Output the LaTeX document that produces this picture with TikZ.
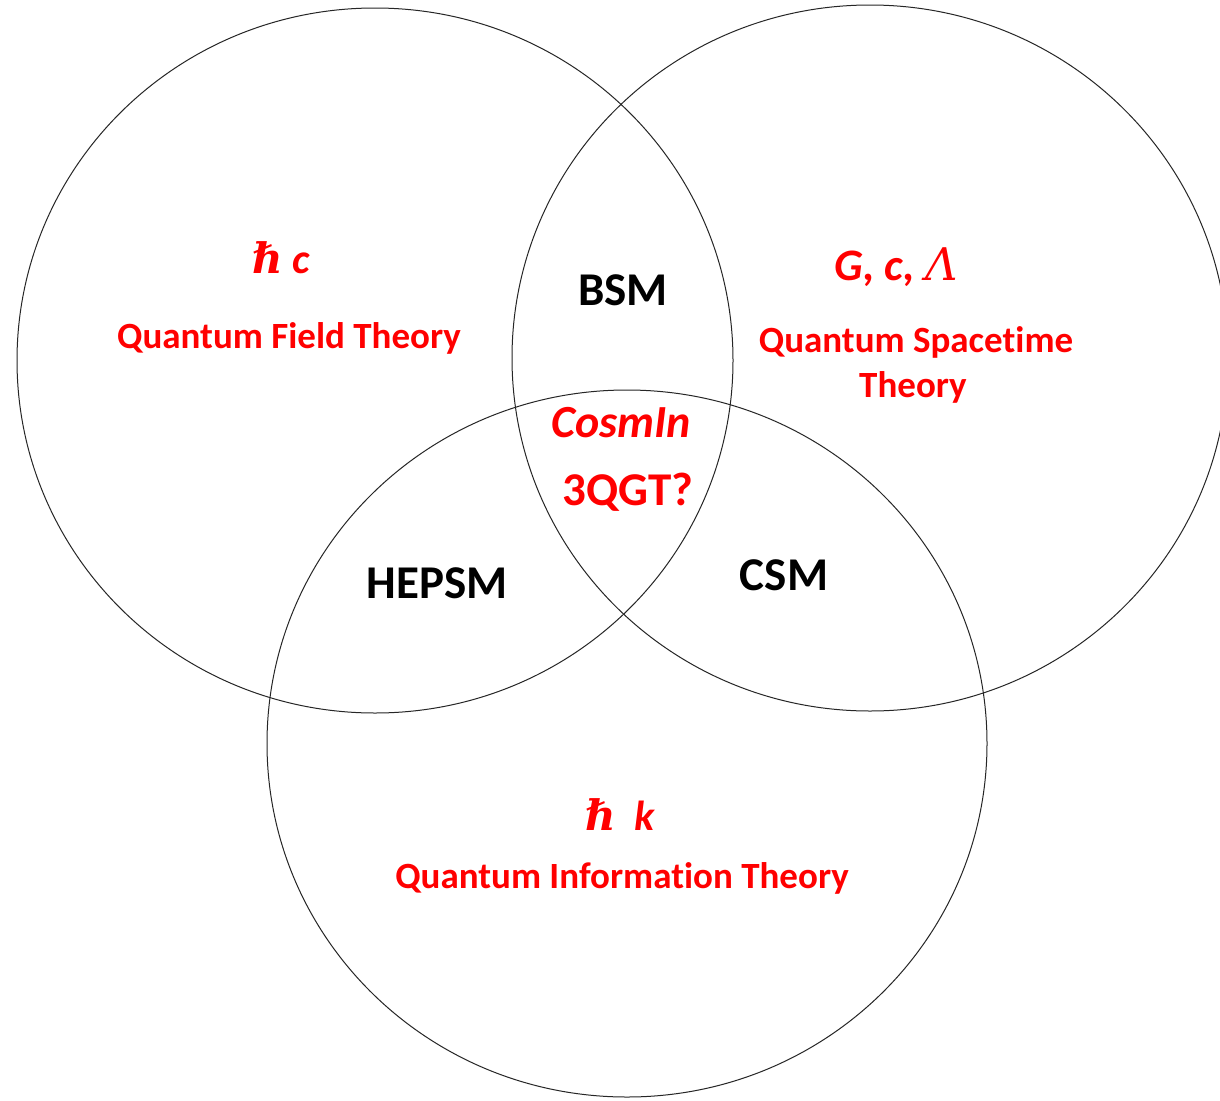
\documentclass[tikz,border=0pt]{standalone}
\usepackage{fontspec}
\setmainfont{Carlito}[Ligatures=CommonOff]
\newfontfamily\symfont{DejaVu Serif}
\definecolor{vred}{RGB}{255,0,0}
\begin{document}
\begin{tikzpicture}[x=1pt,y=-1pt,
  ring/.style={draw=black!85,line width=1pt},
  redlbl/.style={text=vred,font=\fontsize{37}{40}\selectfont\bfseries,inner sep=0pt,anchor=base},
  redsym/.style={text=vred,font=\fontsize{42}{46}\selectfont\bfseries\itshape,inner sep=0pt,anchor=base},
  blklbl/.style={text=black,font=\fontsize{47}{50}\selectfont\bfseries,inner sep=0pt,anchor=base},
  midlbl/.style={text=vred,font=\fontsize{47}{50}\selectfont\bfseries,inner sep=0pt,anchor=base}]
\useasboundingbox (0,0) rectangle (1220,1100);
\fill[white] (0,0) rectangle (1220,1100);
\draw[ring] (375,360.5) ellipse [x radius=358pt, y radius=352.5pt];
\draw[ring] (870,358) ellipse [x radius=358pt, y radius=353pt];
\draw[ring] (627,743.5) ellipse [x radius=360pt, y radius=353.5pt];
% left circle
\node[redsym] (hc) at (281,273) {{\symfont\bfseries\itshape ℏ}\ c};
\node[redlbl] (qft) at (289,348) {Quantum Field Theory};
% right circle
\node[redsym,font=\fontsize{45}{48}\selectfont\bfseries\itshape] (gcl) at (896,280) {G, c, {\symfont\itshape\mdseries Λ}};
\node[redlbl] (qst) at (916,352) {Quantum Spacetime};
\node[redlbl] (qstb) at (913,397) {Theory};
% bottom circle
\node[redsym] (hk) at (620,830) {{\symfont\bfseries\itshape ℏ}\ \ k};
\node[redlbl] (qit) at (622,888) {Quantum Information Theory};
% intersections
\node[blklbl] (bsm) at (623,305) {BSM};
\node[blklbl] (hepsm) at (437,598) {HEPSM};
\node[blklbl] (csm) at (784,590) {CSM};
\node[midlbl,font=\fontsize{46}{50}\selectfont\bfseries\itshape] (cosm) at (621,437) {CosmIn};
\node[midlbl] (qgt) at (628,505) {3QGT?};
\end{tikzpicture}
\end{document}
